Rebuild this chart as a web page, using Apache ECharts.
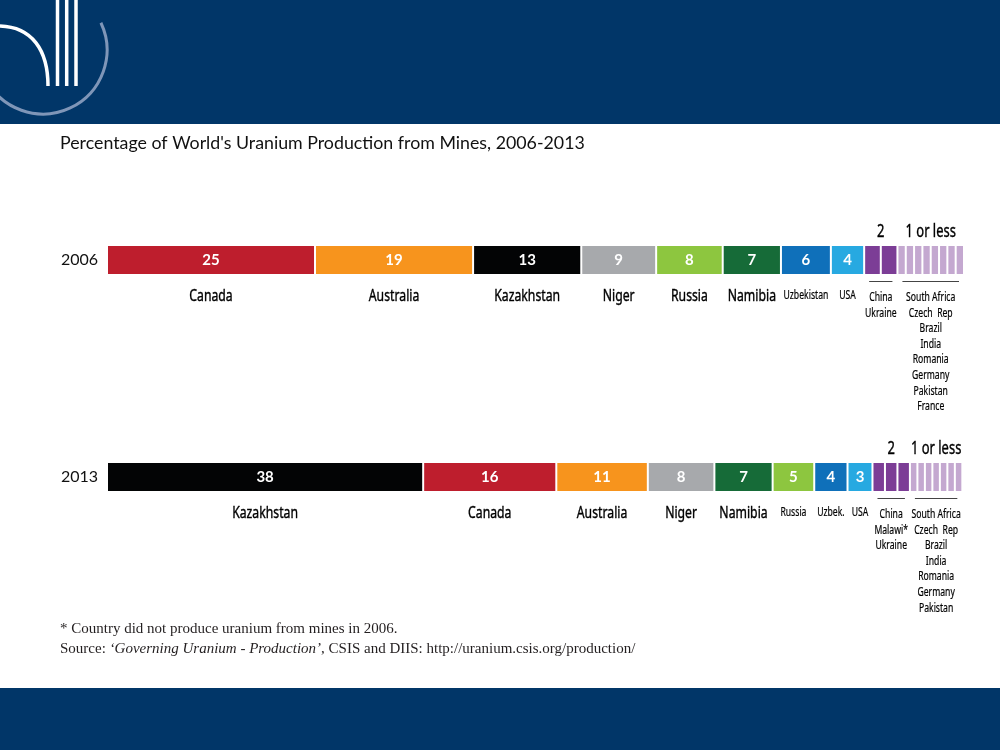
<!DOCTYPE html>
<html>
<head>
<meta charset="utf-8">
<script src="https://cdn.jsdelivr.net/npm/echarts@6/dist/echarts.min.js"></script>
<style>
  html, body { margin: 0; padding: 0; background: #fff; }
  #chart { width: 1000px; height: 750px; }
</style>
</head>
<body>
<div id="chart"></div>
<script>
// ---- Data ----
const years = ['2006', '2013'];
const countries2006 = ['Canada', 'Australia', 'Kazakhstan', 'Niger', 'Russia', 'Namibia', 'Uzbekistan', 'USA',
  'China', 'Ukraine',
  'South Africa', 'Czech  Rep', 'Brazil', 'India', 'Romania', 'Germany', 'Pakistan', 'France'];
const values2006 = [25, 19, 13, 9, 8, 7, 6, 4, 2, 2, 1, 1, 1, 1, 1, 1, 1, 1];
const countries2013 = ['Kazakhstan', 'Canada', 'Australia', 'Niger', 'Namibia', 'Russia', 'Uzbek.', 'USA',
  'China', 'Malawi*', 'Ukraine',
  'South Africa', 'Czech  Rep', 'Brazil', 'India', 'Romania', 'Germany', 'Pakistan'];
const values2013 = [38, 16, 11, 8, 7, 5, 4, 3, 1.5, 1.5, 1.5, 0.9, 0.9, 0.9, 0.9, 0.9, 0.9, 0.9];
const groupHeadings = ['2', '1 or less'];

const countryColors = {
  'Canada': '#be1e2d', 'Australia': '#f7941d', 'Kazakhstan': '#030405', 'Niger': '#a7a9ac',
  'Russia': '#8dc63f', 'Namibia': '#166b38', 'Uzbekistan': '#0f70ba', 'Uzbek.': '#0f70ba', 'USA': '#27a9e1'
};
const groupColors = { '2': '#7c3d96', '1 or less': '#c4a8d0' };

const COND = '"Noto Sans", "DejaVu Sans", sans-serif';
const SQ = 0.72; // horizontal squeeze to emulate a condensed face
const HUMAN = 'Lato, "Open Sans", sans-serif';
const SERIF = '"Liberation Serif", "DejaVu Serif", serif';

function groupOf(v) { return v >= 2.5 ? null : (v >= 1.25 ? groupHeadings[0] : groupHeadings[1]); }

// Build segments and groups
const segments = [];
const segNames = [];
const groups = [];
const groupNames = [];
[[countries2006, values2006], [countries2013, values2013]].forEach(([names, vals], yi) => {
  let acc = 0;
  let cur = null;
  names.forEach((n, i) => {
    const s = acc; acc += vals[i];
    segments.push([s, acc, yi, vals[i]]);
    segNames.push(n);
    const g = groupOf(vals[i]);
    if (g) {
      if (!cur || cur.key !== g) {
        cur = { key: g, item: [s, acc, yi], names: [] };
        groups.push(cur.item);
        groupNames.push({ heading: g, names: cur.names });
      } else {
        cur.item[1] = acc;
      }
      cur.names.push(n);
    } else {
      cur = null;
    }
  });
});

const BAR_H = 28;

function condText(text, x, y, size) {
  return {
    type: 'text', x: x, y: y, scaleX: SQ,
    style: { text: text, x: 0, y: 0, align: 'center', verticalAlign: 'middle',
      fill: '#000', stroke: '#000', lineWidth: size >= 16 ? 0.4 : 0.2, font: size + 'px ' + COND }
  };
}

const chart = echarts.init(document.getElementById('chart'), null, { renderer: 'canvas' });

const option = {
  backgroundColor: '#ffffff',
  animation: false,
  grid: { left: 108, right: 35, top: 151.5, bottom: 164.5, containLabel: false },
  xAxis: { type: 'value', min: 0, max: 103, show: false },
  yAxis: {
    type: 'category', data: years, inverse: true,
    axisLine: { show: false }, axisTick: { show: false }, splitLine: { show: false },
    axisLabel: { margin: 10, fontSize: 16, fontFamily: HUMAN, color: '#111' }
  },
  graphic: [
    { type: 'rect', shape: { x: 0, y: 0, width: 1000, height: 124 }, style: { fill: '#013668' }, silent: true },
    { type: 'rect', shape: { x: 0, y: 688, width: 1000, height: 62 }, style: { fill: '#013668' }, silent: true },
    { type: 'arc', shape: { cx: 43, cy: 50, r: 64, startAngle: -0.44, endAngle: 2.7, clockwise: true },
      style: { stroke: '#7f96b8', lineWidth: 3, fill: null }, silent: true },
    { type: 'bezierCurve', shape: { x1: 0, y1: 26, cpx1: 32, cpy1: 27, cpx2: 48, cpy2: 50, x2: 48, y2: 86 },
      style: { stroke: '#ffffff', lineWidth: 3.5, fill: null }, silent: true },
    { type: 'line', shape: { x1: 57.5, y1: 0, x2: 57.5, y2: 86 }, style: { stroke: '#fff', lineWidth: 3.5 }, silent: true },
    { type: 'line', shape: { x1: 66.7, y1: 0, x2: 66.7, y2: 86 }, style: { stroke: '#fff', lineWidth: 3.5 }, silent: true },
    { type: 'line', shape: { x1: 76, y1: 0, x2: 76, y2: 86 }, style: { stroke: '#fff', lineWidth: 3.5 }, silent: true },
    { type: 'text', x: 60, y: 143, style: {
        text: "Percentage of World's Uranium Production from Mines, 2006-2013",
        font: '17.8px ' + HUMAN, fill: '#111', verticalAlign: 'middle' }, silent: true },
    { type: 'text', x: 60, y: 629, style: {
        text: '* Country did not produce uranium from mines in 2006.',
        font: '15px ' + SERIF, fill: '#231f20', verticalAlign: 'middle' }, silent: true },
    { type: 'text', x: 60, y: 649, style: {
        text: '{n|Source: }{i|\u2018Governing Uranium - Production\u2019}{n|, CSIS and DIIS: http://uranium.csis.org/production/}',
        verticalAlign: 'middle',
        rich: {
          n: { font: '15px ' + SERIF, fill: '#231f20' },
          i: { font: 'italic 15px ' + SERIF, fill: '#231f20' }
        } }, silent: true }
  ],
  series: [
    {
      type: 'custom',
      name: 'segments',
      coordinateSystem: 'cartesian2d',
      encode: { x: [0, 1], y: 2 },
      data: segments,
      renderItem: function (params, api) {
        const s = api.value(0), e = api.value(1), yi = api.value(2), v = api.value(3);
        const name = segNames[params.dataIndex];
        const p0 = api.coord([s, yi]);
        const p1 = api.coord([e, yi]);
        const x0 = p0[0], x1 = p1[0] - 2, cy = p0[1];
        const g = groupOf(v);
        const color = g ? groupColors[g] : countryColors[name];
        const children = [{
          type: 'rect',
          shape: { x: x0, y: cy - BAR_H / 2, width: x1 - x0, height: BAR_H },
          style: { fill: color }
        }];
        if (!g) {
          const w = x1 - x0;
          children.push({
            type: 'text',
            style: { text: String(Math.round(v)), x: (x0 + x1) / 2, y: cy + 0.5, align: 'center', verticalAlign: 'middle',
              fill: '#ffffff', font: 'bold 15px ' + HUMAN }
          });
          children.push(condText(name, (x0 + x1) / 2, cy + 36, w >= 52 ? 17 : 12));
        }
        return { type: 'group', children: children };
      }
    },
    {
      type: 'custom',
      name: 'groups',
      coordinateSystem: 'cartesian2d',
      encode: { x: [0, 1], y: 2 },
      data: groups,
      renderItem: function (params, api) {
        const s = api.value(0), e = api.value(1), yi = api.value(2);
        const info = groupNames[params.dataIndex];
        const p0 = api.coord([s, yi]);
        const p1 = api.coord([e, yi]);
        const x0 = p0[0], x1 = p1[0] - 2, cy = p0[1];
        const cx = (x0 + x1) / 2;
        const children = [
          condText(info.heading, cx, cy - 28, 18),
          { type: 'line', shape: { x1: x0 + 4, y1: cy + 21.5, x2: x1 - 4, y2: cy + 21.5 },
            style: { stroke: '#444', lineWidth: 1 } }
        ];
        info.names.forEach((n, k) => {
          children.push(condText(n, cx, cy + 37.5 + k * 15.6, 12));
        });
        return { type: 'group', children: children };
      }
    }
  ]
};
chart.setOption(option);
</script>
</body>
</html>
